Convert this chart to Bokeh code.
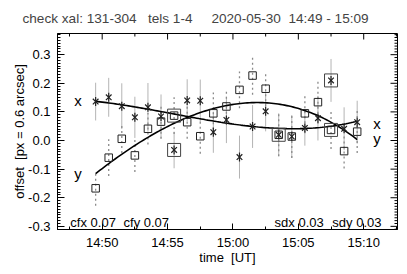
import numpy as np
from bokeh.plotting import figure
from bokeh.models import (ColumnDataSource, FixedTicker, Range1d, Label, PrintfTickFormatter)
from bokeh.embed import file_html
from bokeh.resources import INLINE

FONT = "Liberation Sans"
FS = "13px"

# ---------------- data ----------------
times = ["14:49:30", "14:50:30", "14:51:30", "14:52:30", "14:53:30", "14:54:30",
         "14:55:30", "14:56:30", "14:57:30", "14:58:30", "14:59:30", "15:00:30",
         "15:01:30", "15:02:30", "15:03:30", "15:04:30", "15:05:30", "15:06:30",
         "15:07:30", "15:08:30", "15:09:30"]
x_off = [0.136, 0.151, 0.120, 0.081, 0.116, 0.084, -0.033, 0.140, 0.139, 0.029, 0.072,
         -0.058, 0.049, 0.102, 0.020, 0.014, 0.044, 0.078, 0.210, 0.041, 0.064]
x_err = [0.066, 0.068, 0.080, 0.072, 0.085, 0.077, 0.064, 0.074, 0.074, 0.072, 0.081,
         0.075, 0.075, 0.070, 0.075, 0.075, 0.062, 0.078, 0.075, 0.075, 0.075]
y_off = [-0.167, -0.060, 0.006, -0.052, 0.041, 0.066, 0.087, 0.064, 0.015, 0.095, 0.119,
         0.177, 0.227, 0.181, 0.020, 0.014, 0.095, 0.134, 0.037, -0.037, 0.031]
y_err = [0.061, 0.064, 0.050, 0.058, 0.055, 0.060, 0.064, 0.058, 0.061, 0.073, 0.060,
         0.064, 0.067, 0.061, 0.075, 0.075, 0.070, 0.075, 0.067, 0.061, 0.075]
x_flagged = [6, 18]
y_flagged = [6, 14, 18]

fit_x_times = ["14:49:30", "14:53:32", "14:57:16", "14:59:49", "15:02:53", "15:05:56", "15:09:30"]
fit_x_vals = [0.136, 0.111, 0.081, 0.052, 0.044, 0.047, 0.066]
fit_y_times = ["14:49:30", "14:52:10", "14:54:05", "14:57:16", "14:59:49", "15:01:35",
               "15:02:53", "15:05:56", "15:09:30"]
fit_y_vals = [-0.113, -0.029, 0.023, 0.087, 0.134, 0.140, 0.134, 0.081, 0.009]

x_tick_times = ["14:50", "14:55", "15:00", "15:05", "15:10"]
x_minor_times = ["14:47:30", "14:52:30", "14:57:30", "15:02:30", "15:07:30", "15:12:30"]
y_ticks = [-0.3, -0.2, -0.1, 0.0, 0.1, 0.2, 0.3]

title_text = "check xal: 131-304 \u00a0\u00a0tels 1-4 \u00a0\u00a0\u00a0\u00a0" \
             "2020-05-30 \u00a014:49 - 15:09"
stats_left = [("cfx 0.07", "14:47:34"), ("cfy 0.07", "14:51:38")]
stats_right = [("sdx 0.03", "15:03:11"), ("sdy 0.03", "15:07:36")]


def to_min(s):
    parts = [float(v) for v in s.split(":")]
    while len(parts) < 3:
        parts.append(0.0)
    return parts[0] * 60 + parts[1] + parts[2] / 60.0


t = np.array([to_min(s) for s in times])
xo = np.array(x_off); xe = np.array(x_err)
yo = np.array(y_off); ye = np.array(y_err)

x0r, x1r = to_min("14:46:35"), to_min("15:12:35")
y0r, y1r = -0.311, 0.374

p = figure(width=407, height=274,
           x_range=Range1d(x0r, x1r), y_range=Range1d(y0r, y1r),
           output_backend="svg", toolbar_location=None,
           min_border_left=57, min_border_right=10, min_border_top=33, min_border_bottom=45)
p.xgrid.visible = False
p.ygrid.visible = False
p.outline_line_color = "black"
p.outline_line_width = 1
p.background_fill_color = "white"
p.border_fill_color = "white"

x_major = [to_min(s) for s in x_tick_times]
x_minor = [to_min(s) for s in x_minor_times]
y_minor = [k / 100 for k in range(-31, 38) if k % 10 != 0]
xt = FixedTicker(ticks=x_major, minor_ticks=x_minor)
yt = FixedTicker(ticks=y_ticks, minor_ticks=y_minor)


def style_axis(ax, major, minor):
    ax.axis_line_color = "black"
    ax.major_tick_line_color = "black"
    ax.minor_tick_line_color = "black"
    ax.major_tick_in = major
    ax.major_tick_out = 0
    ax.minor_tick_in = minor
    ax.minor_tick_out = 0
    ax.major_label_text_font = FONT
    ax.major_label_text_font_size = FS
    ax.major_label_text_color = "black"
    ax.axis_label_text_font = FONT
    ax.axis_label_text_font_size = FS
    ax.axis_label_text_font_style = "normal"
    ax.axis_label_text_color = "black"


xa = p.xaxis[0]
xa.ticker = xt
xa.major_label_overrides = {to_min(s): s for s in x_tick_times}
style_axis(xa, 6, 3)
xa.major_label_standoff = 5
xa.axis_label = "time \u00a0[UT]"
xa.axis_label_standoff = -3

ya = p.yaxis[0]
ya.ticker = yt
ya.formatter = PrintfTickFormatter(format="%.1f")
style_axis(ya, 7, 3)
ya.major_label_standoff = 7
ya.axis_label = "offset \u00a0[px = 0.6 arcsec]"
ya.axis_label_standoff = -2

# inward ticks on the top and right frame edges (half of each dash is clipped by the frame)
p.scatter(x_major, [y1r] * len(x_major), marker="dash", angle=np.pi / 2, size=12,
          line_color="black", line_width=1)
p.scatter(x_minor, [y1r] * len(x_minor), marker="dash", angle=np.pi / 2, size=6,
          line_color="black", line_width=1)
p.scatter([x1r] * len(y_ticks), y_ticks, marker="dash", size=14,
          line_color="black", line_width=1)
p.scatter([x1r] * len(y_minor), y_minor, marker="dash", size=6,
          line_color="black", line_width=1)

# error bars
src = ColumnDataSource(dict(t=t, x=xo, xlo=xo - xe, xhi=xo + xe,
                            y=yo, ylo=yo - ye, yhi=yo + ye))
p.segment(x0="t", y0="xlo", x1="t", y1="xhi", source=src, line_color="#b4b4b4", line_width=1)
p.segment(x0="t", y0="ylo", x1="t", y1="yhi", source=src, line_color="#8a8a8a",
          line_width=1.3, line_dash="2 3")

# fits
ftx = np.array([to_min(s) for s in fit_x_times])
fty = np.array([to_min(s) for s in fit_y_times])
cx = np.polyfit(ftx - 900, np.array(fit_x_vals), 3)
cy = np.polyfit(fty - 900, np.array(fit_y_vals), 3)
tt = np.linspace(t[0], t[-1], 120)
p.line(tt, np.polyval(cx, tt - 900), line_color="black", line_width=1.6)
p.line(tt, np.polyval(cy, tt - 900), line_color="black", line_width=1.6)

# markers
p.scatter("t", "y", source=src, marker="square", size=7.5, fill_color=None,
          line_color="#222222", line_width=1)
p.scatter("t", "x", source=src, marker="x", size=8, line_color="#222222", line_width=1.2)
p.scatter("t", "x", source=src, marker="dash", size=9, angle=np.pi / 2,
          line_color="#222222", line_width=1.2)

fx = ColumnDataSource(dict(t=t[x_flagged], v=xo[x_flagged]))
fy = ColumnDataSource(dict(t=t[y_flagged], v=yo[y_flagged]))
p.scatter("t", "v", source=fx, marker="square", size=13, fill_color=None,
          line_color="#444444", line_width=1)
p.scatter("t", "v", source=fy, marker="square", size=13, fill_color=None,
          line_color="#444444", line_width=1)

# curve labels
fx0 = np.polyval(cx, t[0] - 900); fx1 = np.polyval(cx, t[-1] - 900)
fy0 = np.polyval(cy, t[0] - 900); fy1 = np.polyval(cy, t[-1] - 900)
for txt, xx, yy, xoff, yoff, al in [("x", t[0], fx0, -14, 1, "right"),
                                    ("y", t[0], fy0, -14, 0, "right"),
                                    ("x", t[-1], fx1, 16, -2, "left"),
                                    ("y", t[-1], fy1, 16, 1, "left")]:
    p.add_layout(Label(x=xx, y=yy, x_offset=xoff, y_offset=yoff, text=txt,
                       text_align=al, text_baseline="alphabetic",
                       text_font=FONT, text_font_size="15px", text_color="black"))

for txt, tm in stats_left + stats_right:
    p.add_layout(Label(x=to_min(tm), y=-0.2857, text=txt, text_align="left",
                       text_baseline="alphabetic", text_font=FONT,
                       text_font_size=FS, text_color="black"))

p.title.text = title_text
p.title.text_font = FONT
p.title.text_font_size = "13.6px"
p.title.text_font_style = "normal"
p.title.align = "left"
p.title.vertical_align = "top"
p.title.offset = -35
p.title.standoff = 12

open("out.html", "w").write(file_html(p, INLINE))
